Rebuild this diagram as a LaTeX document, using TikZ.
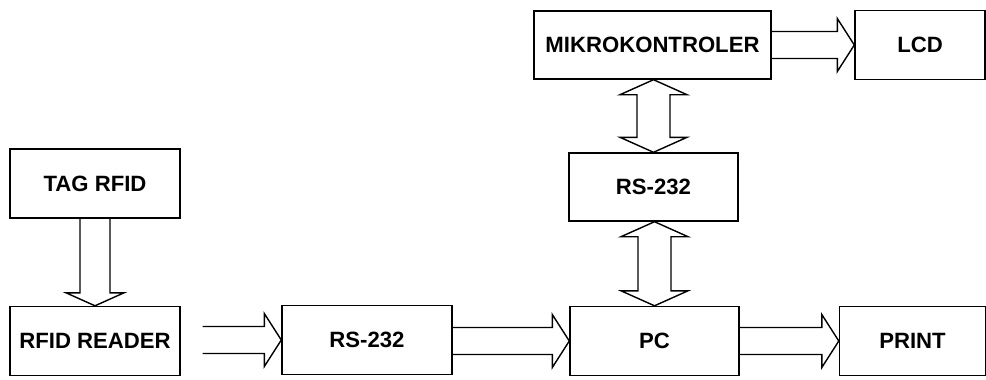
\documentclass[tikz,border=0pt]{standalone}
\usepackage{fontspec}
\setmainfont{Liberation Sans}
\usetikzlibrary{calc,positioning}

% hollow block arrow, left to right
\newcommand{\harr}[3]{%
  \draw[blk] let \p1=(#1.east), \p2=(#2.west) in
    (\x1+#3,\y2+0.27cm) -- (\x2-0.34cm,\y2+0.27cm) -- (\x2-0.34cm,\y2+0.53cm)
    -- (\x2,\y2) -- (\x2-0.34cm,\y2-0.53cm) -- (\x2-0.34cm,\y2-0.27cm)
    -- (\x1+#3,\y2-0.27cm);}
% hollow double block arrow, vertical
\newcommand{\dvarr}[2]{%
  \draw[blk] let \p1=(#1.north), \p2=(#2.south) in
    (\x1,\y2) -- (\x1+0.67cm,\y2-0.3cm) -- (\x1+0.33cm,\y2-0.3cm)
    -- (\x1+0.33cm,\y1+0.3cm) -- (\x1+0.67cm,\y1+0.3cm) -- (\x1,\y1)
    -- (\x1-0.67cm,\y1+0.3cm) -- (\x1-0.33cm,\y1+0.3cm)
    -- (\x1-0.33cm,\y2-0.3cm) -- (\x1-0.67cm,\y2-0.3cm) -- cycle;}

\begin{document}
\begin{tikzpicture}[
    box/.style={draw, line width=0.8pt, minimum width=3.4cm, minimum height=1.38cm,
        inner sep=0pt, font=\fontsize{12.6}{15}\selectfont\bfseries},
    blk/.style={line width=0.8pt, line join=miter}
]
    \useasboundingbox (0,0) rectangle (19.72,7.58);

    \node[box] (tag) at (1.9,3.91) {TAG RFID};
    \node[box] (rdr) at (1.9,0.76) {RFID READER};
    \node[box, minimum width=3.4cm] (rs1) at (7.34,0.78) {RS-232};
    \node[box, minimum width=3.38cm] (pc) at (13.09,0.76) {PC};
    \node[box, minimum width=2.92cm] (prn) at (18.25,0.76) {PRINT};

    \node[box, minimum width=3.38cm, minimum height=1.36cm] (rs2) at (13.07,3.84) {RS-232};
    \node[box, minimum width=4.74cm, minimum height=1.36cm] (mcu) at (13.05,6.68) {MIKROKONTROLER};
    \node[box, minimum width=2.6cm] (lcd) at (18.4,6.68) {LCD};

    % tag to reader
    \draw[blk] let \p1=(tag.south), \p2=(rdr.north) in
        (\x1-0.3cm,\y1) -- (\x1-0.3cm,\y2+0.26cm) -- (\x1-0.58cm,\y2+0.26cm)
        -- (\x1,\y2) -- (\x1+0.58cm,\y2+0.26cm) -- (\x1+0.3cm,\y2+0.26cm)
        -- (\x1+0.3cm,\y1);

    \harr{rdr}{rs1}{0.44cm}
    \harr{rs1}{pc}{0cm}
    \harr{pc}{prn}{0cm}
    \harr{mcu}{lcd}{0cm}

    \dvarr{pc}{rs2}
    \dvarr{rs2}{mcu}
\end{tikzpicture}
\end{document}
